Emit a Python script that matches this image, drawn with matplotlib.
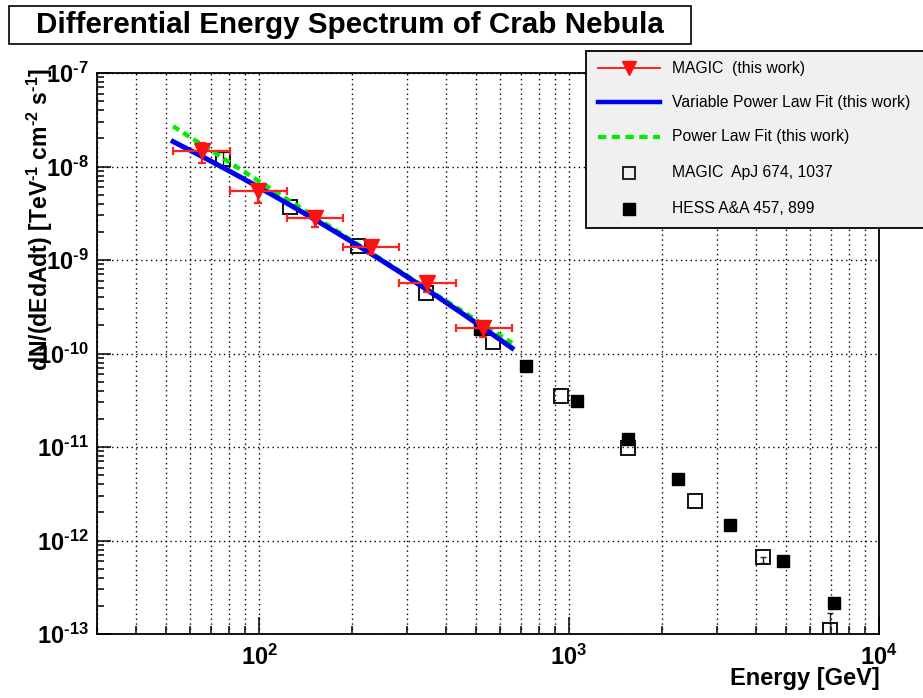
import numpy as np
import matplotlib
matplotlib.use('Agg')
import matplotlib.pyplot as plt
from matplotlib.ticker import FuncFormatter, LogLocator, NullFormatter
from matplotlib.patches import Rectangle
from matplotlib.lines import Line2D

plt.rcParams['font.family'] = ['Liberation Sans', 'DejaVu Sans']
plt.rcParams['mathtext.fontset'] = 'custom'
plt.rcParams['mathtext.rm'] = 'Liberation Sans:bold'
plt.rcParams['mathtext.bf'] = 'Liberation Sans:bold'

# MAGIC (this work): bin centres, bin edges, flux and flux error band [TeV^-1 cm^-2 s^-1]
magic_e = [65.4, 99, 152, 230, 348, 528]
magic_e_lo = [52.8, 80.6, 123, 187, 283, 432]
magic_e_hi = [80.6, 123, 187, 283, 432, 655]
magic_flux = [1.46e-8, 5.46e-9, 2.81e-9, 1.37e-9, 5.65e-10, 1.86e-10]
magic_flux_lo = [1.08e-8, 4.08e-9, 2.26e-9, 1.15e-9, 4.55e-10, 1.50e-10]
magic_flux_hi = [1.79e-8, 6.17e-9, 3.19e-9, 1.56e-9, 6.18e-10, 2.06e-10]

# MAGIC ApJ 674, 1037 (errors only where they stick out of the marker)
apj_e = [76.6, 126, 208, 346, 569, 942, 1549, 2547, 4226, 6951]
apj_flux = [1.20e-8, 3.67e-9, 1.41e-9, 4.42e-10, 1.32e-10, 3.48e-11, 9.66e-12, 2.62e-12, 6.59e-13, 1.11e-13]
apj_flux_lo = [9.9e-9, 3.67e-9, 1.41e-9, 4.42e-10, 1.32e-10, 3.48e-11, 9.66e-12, 2.62e-12, 5.7e-13, 8.0e-14]
apj_flux_hi = [1.43e-8, 3.67e-9, 1.41e-9, 4.42e-10, 1.32e-10, 3.48e-11, 9.66e-12, 2.62e-12, 6.59e-13, 1.67e-13]

# HESS A&A 457, 899
hess_e = [517, 726, 1061, 1549, 2249, 3303, 4898, 7164]
hess_flux = [1.82e-10, 7.29e-11, 3.08e-11, 1.21e-11, 4.50e-12, 1.48e-12, 6.10e-13, 2.17e-13]

# fit results (E0 = 200 GeV), valid over the MAGIC energy range
fit_e_min, fit_e_max = 52.8, 655
e0 = 200.0
pl_norm, pl_index = 1.60e-9, 2.12
lp_norm, lp_index, lp_curv = 1.55e-9, 2.04, 0.31

HY = '\N{HYPHEN}'


def fx(px):
    return px / 923


def fy(py):
    return 1 - py / 698


fig = plt.figure(figsize=(9.23, 6.98), dpi=100)
ax = fig.add_axes([fx(97), fy(634), fx(879) - fx(97), fy(73) - fy(634)])
ax.set_xscale('log')
ax.set_yscale('log')
ax.set_xlim(30, 1e4)
ax.set_ylim(1e-13, 1e-7)

ax.grid(True, axis='x', which='both', color='black', ls=(0, (1, 2.5)), lw=1.0)
ax.grid(True, axis='y', which='major', color='black', ls=(0, (1, 2.5)), lw=1.0)
ax.set_axisbelow(True)

# older measurements
af = np.array(apj_flux)
has_err = (np.array(apj_flux_hi) > af) | (np.array(apj_flux_lo) < af)
ax.errorbar(np.array(apj_e)[has_err], af[has_err],
            yerr=[(af - np.array(apj_flux_lo))[has_err], (np.array(apj_flux_hi) - af)[has_err]],
            fmt='none', ecolor='#222222', elinewidth=1.0, capsize=2.5, zorder=3)
ax.plot(apj_e, apj_flux, 's', ms=9.5, mfc='none', mec='#111111', mew=1.4, zorder=3)
ax.plot(hess_e, hess_flux, 's', ms=9, color='black', zorder=3)

# fit curves
e_fit = np.logspace(np.log10(fit_e_min), np.log10(fit_e_max), 200)
pl_curve = pl_norm * (e_fit / e0) ** (-pl_index)
lp_curve = lp_norm * (e_fit / e0) ** (-lp_index - lp_curv * np.log10(e_fit / e0))
ax.plot(e_fit, pl_curve, color='#00ee00', lw=3.2, ls=(0, (1.6, 1.1)), zorder=4)
ax.plot(e_fit, lp_curve, color='#0000ee', lw=3.6, zorder=5)

# this work
mf = np.array(magic_flux)
me = np.array(magic_e)
ax.errorbar(magic_e, magic_flux,
            xerr=[me - np.array(magic_e_lo), np.array(magic_e_hi) - me],
            yerr=[mf - np.array(magic_flux_lo), np.array(magic_flux_hi) - mf],
            fmt='v', ms=11, color='#ff1010', ecolor='#ff2020',
            elinewidth=1.6, capsize=3, capthick=1.6, zorder=6)

# axes styling
for sp in ax.spines.values():
    sp.set_linewidth(1.3)
ax.tick_params(which='both', direction='in', top=False, right=False)
ax.tick_params(axis='x', which='major', length=12, width=1.1, pad=8)
ax.tick_params(axis='x', which='minor', length=6, width=1.1)
ax.tick_params(axis='y', which='major', length=10, width=1.1, pad=6)
ax.tick_params(axis='y', which='minor', length=5, width=1.1)
ax.xaxis.set_minor_locator(LogLocator(base=10, subs=np.arange(2, 10)))
ax.yaxis.set_minor_locator(LogLocator(base=10, subs=np.arange(2, 10), numticks=20))
ax.yaxis.set_major_locator(LogLocator(base=10, numticks=20))


def decade_label(v, pos):
    exp = int(round(np.log10(v)))
    sign = HY if exp < 0 else ''
    return r'$\mathdefault{10^{%s%d}}$' % (sign, abs(exp))


ax.xaxis.set_major_formatter(FuncFormatter(decade_label))
ax.yaxis.set_major_formatter(FuncFormatter(decade_label))
ax.xaxis.set_minor_formatter(NullFormatter())
ax.yaxis.set_minor_formatter(NullFormatter())
for lab in ax.get_xticklabels() + ax.get_yticklabels():
    lab.set_fontsize(17)
    lab.set_fontweight('bold')

fig.text(fx(880), fy(678), 'Energy [GeV]', ha='right', va='center',
         fontsize=17, fontweight='bold')
ylab = (r'dN/(dEdAdt) [TeV$^{\mathdefault{%s1}}$ cm$^{\mathdefault{%s2}}$ s$^{\mathdefault{%s1}}$]'
        % (HY, HY, HY))
fig.text(fx(40), fy(68), ylab, rotation=90, ha='center', va='top',
         fontsize=16.6, fontweight='bold')

# title box
fig.add_artist(Rectangle((fx(9), fy(44)), fx(691) - fx(9), fy(6) - fy(44),
                         transform=fig.transFigure, fc='white', ec='black', lw=1.2))
fig.text(fx(350), fy(25), 'Differential Energy Spectrum of Crab Nebula',
         ha='center', va='center', fontsize=21.3, fontweight='bold')

# legend
fig.add_artist(Rectangle((fx(586), fy(228)), fx(940) - fx(586), fy(51) - fy(228),
                         transform=fig.transFigure, fc='#f0f0f0', ec='black', lw=1.3, zorder=10))
rows = [68, 102, 137, 173, 209]
labels = ['MAGIC  (this work)', 'Variable Power Law Fit (this work)', 'Power Law Fit (this work)',
          'MAGIC  ApJ 674, 1037', 'HESS A&A 457, 899']
fig.add_artist(Line2D([fx(598), fx(660)], [fy(rows[0])] * 2, color='#ff1010', lw=1.3,
                      transform=fig.transFigure, zorder=11))
fig.add_artist(Line2D([fx(629)], [fy(rows[0])], marker='v', ms=10, color='#ff1010',
                      transform=fig.transFigure, zorder=11))
fig.add_artist(Line2D([fx(598), fx(660)], [fy(rows[1])] * 2, color='#0000ee', lw=3.2,
                      transform=fig.transFigure, zorder=11))
fig.add_artist(Line2D([fx(598), fx(660)], [fy(rows[2])] * 2, color='#00ee00', lw=3.0,
                      ls=(0, (2, 1.3)), transform=fig.transFigure, zorder=11))
fig.add_artist(Line2D([fx(629)], [fy(rows[3])], marker='s', ms=9, mfc='none', mec='#111111', mew=1.3,
                      transform=fig.transFigure, zorder=11))
fig.add_artist(Line2D([fx(629)], [fy(rows[4])], marker='s', ms=8.5, color='black',
                      transform=fig.transFigure, zorder=11))
for r, lab in zip(rows, labels):
    fig.text(fx(672), fy(r), lab, ha='left', va='center', fontsize=11.3, zorder=12)

fig.savefig('out.png', dpi=100)
